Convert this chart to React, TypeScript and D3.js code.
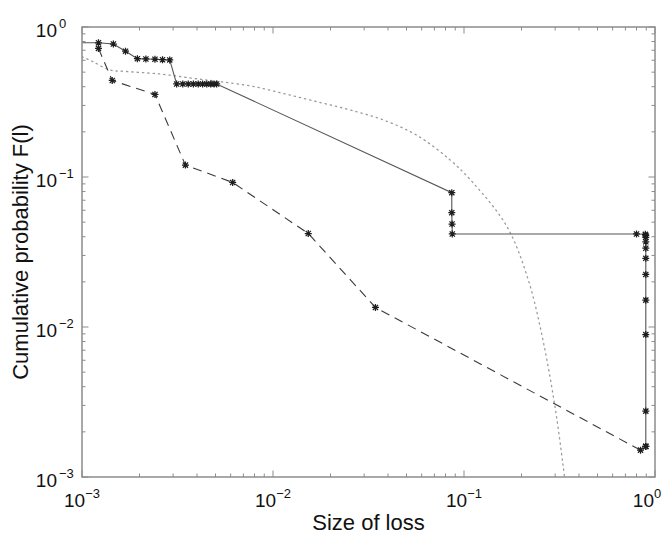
import React from 'react';
import * as d3 from 'd3';

// ---- data ----
const majorTicks = [1e-3, 1e-2, 1e-1, 1];
const tickExponents = ['−3', '−2', '−1', '0'];

const solidX = [0.001, 0.00122, 0.00146, 0.00169, 0.00195, 0.00216, 0.00241, 0.00264, 0.00288, 0.00313, 0.00337, 0.0036, 0.00383, 0.00406, 0.00428, 0.0045, 0.00472, 0.00491, 0.00507, 0.0863, 0.0863, 0.0866, 0.0868, 0.8, 0.89, 0.895, 0.895, 0.895, 0.895, 0.895, 0.895, 0.895, 0.895, 0.895, 0.895, 0.895];
const solidY = [0.785, 0.785, 0.77, 0.69, 0.615, 0.612, 0.61, 0.605, 0.603, 0.417, 0.417, 0.417, 0.417, 0.417, 0.417, 0.417, 0.417, 0.417, 0.417, 0.0786, 0.0578, 0.0486, 0.0417, 0.0417, 0.0415, 0.0408, 0.0396, 0.037, 0.0335, 0.0287, 0.0224, 0.0151, 0.0089, 0.00275, 0.0016, 0.0016];

const dashedX = [0.00122, 0.00144, 0.00241, 0.00348, 0.00615, 0.0153, 0.0344, 0.84];
const dashedY = [0.72, 0.44, 0.355, 0.12, 0.092, 0.042, 0.0135, 0.00151];

const dottedX = [0.001, 0.00114, 0.0014, 0.00171, 0.00256, 0.0038, 0.0053, 0.0076, 0.0113, 0.0169, 0.0253, 0.0378, 0.0565, 0.0845, 0.112, 0.168, 0.217, 0.26, 0.3, 0.33, 0.345];
const dottedY = [0.634, 0.587, 0.517, 0.505, 0.486, 0.455, 0.432, 0.405, 0.361, 0.318, 0.28, 0.24, 0.19, 0.13, 0.091, 0.0466, 0.0206, 0.008, 0.0029, 0.0012, 0.00075];

const xLabel = 'Size of loss';
const yLabel = 'Cumulative probability F(l)';

const W = 664, H = 536;
const L = 82, R = 655, T = 27, B = 477;
const AX = '#8c8c8c';
const FONT = '"Liberation Sans", Arial, Helvetica, sans-serif';

const star = 'M-3.5,0H3.5M0,-3.5V3.5M-2.6,-2.6L2.6,2.6M-2.6,2.6L2.6,-2.6';

export default function App() {
  const x = d3.scaleLog().domain([1e-3, 1]).range([L, R]);
  const y = d3.scaleLog().domain([1e-3, 1]).range([B, T]);
  const xt = x.ticks();
  const yt = y.ticks();
  const isMajor = (v: number) => Math.abs(Math.log10(v) - Math.round(Math.log10(v))) < 1e-9;

  const pts = (xs: number[], ys: number[]) => xs.map((v, i) => [v, ys[i]] as [number, number]);
  const line = d3.line<[number, number]>().x(d => x(d[0])).y(d => y(d[1]));
  const smooth = d3.line<[number, number]>().x(d => x(d[0])).y(d => y(d[1])).curve(d3.curveCatmullRom.alpha(0.5));

  const solid = pts(solidX, solidY);
  const dashed = pts(dashedX, dashedY);
  const dotted = pts(dottedX, dottedY);

  // x tick label centre, kept inside the figure
  const labelW = 30;
  const xLabelCx = (v: number) => Math.min(x(v), W - 2 - labelW / 2);

  return (
    <svg width={W} height={H} style={{ position: 'absolute', left: 0, top: 0, background: '#fff' }} fontFamily={FONT}>
      <defs>
        <clipPath id="plot"><rect x={L} y={T} width={R - L} height={B - T} /></clipPath>
      </defs>
      <rect width={W} height={H} fill="#fff" />
      {/* ticks */}
      <g stroke={AX} strokeWidth={1}>
        {xt.map((v, i) => {
          const len = isMajor(v) ? 6.5 : 3.5;
          const px = x(v);
          return (
            <g key={'xt' + i}>
              <line x1={px} x2={px} y1={B} y2={B - len} />
              <line x1={px} x2={px} y1={T} y2={T + len} />
            </g>
          );
        })}
        {yt.map((v, i) => {
          const len = isMajor(v) ? 6.5 : 3.5;
          const py = y(v);
          return (
            <g key={'yt' + i}>
              <line x1={L} x2={L + len} y1={py} y2={py} />
              <line x1={R} x2={R - len} y1={py} y2={py} />
            </g>
          );
        })}
      </g>
      <g clipPath="url(#plot)" fill="none">
        <path d={smooth(dotted) || ''} stroke="#9a9a9a" strokeWidth={1.3} strokeDasharray="1.3,4" strokeLinecap="round" />
        <path d={line(dashed) || ''} stroke="#3a3a3a" strokeWidth={1.1} strokeDasharray="9,6" />
        <path d={line(solid) || ''} stroke="#555" strokeWidth={1.1} />
      </g>
      <g stroke="#1e1e1e" strokeWidth={1.25} fill="none">
        {solid.filter(d => d[0] > 1e-3).map((d, i) => (
          <path key={'sm' + i} d={star} transform={`translate(${x(d[0])},${y(d[1])})`} />
        ))}
        {dashed.map((d, i) => (
          <path key={'dm' + i} d={star} transform={`translate(${x(d[0])},${y(d[1])})`} />
        ))}
      </g>
      <rect x={L} y={T} width={R - L} height={B - T} fill="none" stroke={AX} strokeWidth={1.5} />
      <g fill="#111">
        {majorTicks.map((v, i) => (
          <text key={'xl' + i} x={xLabelCx(v)} y={507} textAnchor="middle" fontSize={19}>
            10<tspan dy={-9} fontSize={13}>{tickExponents[i]}</tspan>
          </text>
        ))}
        {majorTicks.map((v, i) => (
          <g key={'yl' + i}>
            <text x={57} y={y(v) + 10} textAnchor="end" fontSize={19}>10</text>
            <text x={59} y={y(v) + 1} textAnchor="start" fontSize={13}>{tickExponents[i]}</text>
          </g>
        ))}
        <text x={(L + R) / 2} y={530} textAnchor="middle" fontSize={22}>{xLabel}</text>
        <text transform={`translate(28,${(T + B) / 2}) rotate(-90)`} textAnchor="middle" fontSize={22}>{yLabel}</text>
      </g>
    </svg>
  );
}
